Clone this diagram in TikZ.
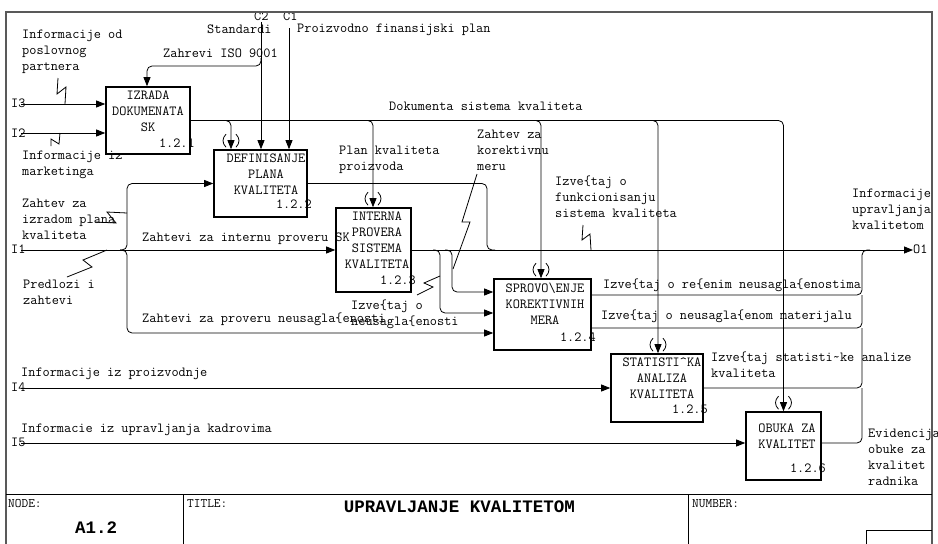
\documentclass[tikz,border=0pt]{standalone}
\usepackage{fontspec}
\newfontfamily\ttlfont{Liberation Mono}
\usetikzlibrary{arrows.meta}

% tunnel brackets "( )" drawn around an arrow tip that enters a box from above
\newcommand\tunnel[1]{%
  \begin{scope}[shift={(#1)}]
    \draw[conn] (-5,-15) .. controls (-9,-11) and (-9,-6) .. (-5,-2);
    \draw[conn] (5,-15) .. controls (9,-11) and (9,-6) .. (5,-2);
  \end{scope}}

% a left-aligned label of several lines, one node per line
\newcommand\labelstack[4]{%
  \foreach \t [count=\i] in {#4}
    \node[lbl] (#1\i) at (#2,{#3+16*(\i-1)}) {\t};}

\begin{document}
\begin{tikzpicture}[x=1pt,y=-1pt,
  conn/.style={line width=0.8pt, draw=black},
  arr/.style={conn, -{Triangle[length=9pt,width=7pt]}},
  rc/.style={rounded corners=5pt},
  pbox/.style={draw, line width=1.6pt, inner sep=0pt},
  txtfont/.style={font=\ttfamily\fontsize{13.9}{16}\selectfont},
  lbl/.style={txtfont, inner sep=0pt, anchor=west, text height=8pt, text depth=0pt},
  btxt/.style={txtfont, inner sep=0pt, align=center},
  bnum/.style={txtfont, inner sep=0pt, anchor=east, text height=8pt, text depth=0pt},
  frame/.style={line width=1.2pt, draw=black!65},
  tb/.style={line width=0.9pt},
  tblbl/.style={font=\ttfamily\fontsize{13}{15}\selectfont, inner sep=0pt, anchor=west, text height=7pt, text depth=0pt},
  ttl/.style={font=\ttlfont\bfseries\fontsize{17.5}{20}\selectfont, inner sep=0pt, text height=11pt, text depth=0pt}
]
\useasboundingbox (0,0) rectangle (938,544);

% ---------- activity boxes ----------
\node[pbox, minimum width=84pt, minimum height=67pt] (b1) at (148,120.5) {};
\node[pbox, minimum width=93pt, minimum height=67pt] (b2) at (260.5,183.5) {};
\node[pbox, minimum width=75pt, minimum height=84pt] (b3) at (373.5,250) {};
\node[pbox, minimum width=97pt, minimum height=71pt] (b4) at (542.5,314.5) {};
\node[pbox, minimum width=92pt, minimum height=68pt] (b5) at (657,388) {};
\node[pbox, minimum width=75pt, minimum height=68pt] (b6) at (783.5,446) {};

\node[btxt] (t1) at (148,111) {IZRADA\\DOKUMENATA\\SK};
\node[btxt] (t2) at (266,174) {DEFINISANJE\\PLANA\\KVALITETA};
\node[btxt] (t3) at (377,240) {INTERNA\\PROVERA\\SISTEMA\\KVALITETA};
\node[btxt] (t4) at (545,304) {SPROVO\textbackslash ENJE\\KOREKTIVNIH\\MERA};
\node[btxt] (t5) at (662,378) {STATISTI\textasciicircum KA\\ANALIZA\\KVALITETA};
\node[btxt] (t6) at (787,436) {OBUKA ZA\\KVALITET};

\node[bnum] (n1) at (195,143) {1.2.1};
\node[bnum] (n2) at (312,204) {1.2.2};
\node[bnum] (n3) at (416,280) {1.2.3};
\node[bnum] (n4) at (596,337) {1.2.4};
\node[bnum] (n5) at (708,409) {1.2.5};
\node[bnum] (n6) at (826,468) {1.2.6};

% ---------- free ends and junction points ----------
\coordinate (i3s) at (21,104);
\coordinate (i2s) at (21,133);
\coordinate (i1s) at (21,250);
\coordinate (i4s) at (21,388);
\coordinate (i5s) at (21,443);
\coordinate (c2s) at (261,22);
\coordinate (c1s) at (289,28);
\coordinate (c2j) at (261,58);
\coordinate (zt)  at (147,66);
\coordinate (o1e) at (913,250);
\coordinate (k2) at (231,120.5);
\coordinate (k3) at (373,120.5);
\coordinate (k4) at (541,120.5);
\coordinate (k5) at (658,120.5);
\coordinate (pj) at (487,250);
\coordinate (m1) at (440,250);
\coordinate (m2) at (452,250);
\coordinate (f1) at (127,250);
\coordinate (cx) at (862,250);
\coordinate (in41) at ([yshift=22.5pt]b4.west);
\coordinate (in42) at ([yshift=1.5pt]b4.west);
\coordinate (in43) at ([yshift=-18.5pt]b4.west);
\coordinate (o41) at ([yshift=19.5pt]b4.east);
\coordinate (o42) at ([yshift=-13.5pt]b4.east);
\coordinate (o6)  at ([yshift=3pt]b6.east);

% ---------- inputs ----------
\draw[arr] (i3s) -- (i3s -| b1.west);
\draw[arr] (i2s) -- (i2s -| b1.west);
\draw[arr] (i1s) -- (i1s -| b3.west);
\draw[arr] (i4s) -- (i4s -| b5.west);
\draw[arr] (i5s) -- (i5s -| b6.west);
\draw[arr,rc] ([xshift=-7pt]f1) -| (f1 |- b2.west) -- (b2.west);
\draw[arr,rc] ([xshift=-7pt]f1) -| (f1 |- in43) -- (in43);

% ---------- controls ----------
\draw[arr] (c2s) -- (c2s |- b2.north);
\draw[arr] (c1s) -- (c1s |- b2.north);
\draw[arr,rc] (c2j) |- (zt) -- (zt |- b1.north);

% ---------- quality documents, fed to every later activity ----------
\draw[arr,rc] (b1.east) -| (b6.north);
\draw[arr,rc] ([xshift=-8pt]k2) -| (k2 |- b2.north);
\draw[arr,rc] ([xshift=-8pt]k3) -| (k3 |- b3.north);
\draw[arr,rc] ([xshift=-8pt]k4) -| (k4 |- b4.north);
\draw[arr,rc] ([xshift=-8pt]k5) -| (k5 |- b5.north);
\tunnel{k2 |- b2.north}
\tunnel{k3 |- b3.north}
\tunnel{k4 |- b4.north}
\tunnel{k5 |- b5.north}
\tunnel{b6.north}

% ---------- outputs ----------
\draw[conn,rc] (b2.east) -| (pj) -- ++(8,0);
\draw[arr] (b3.east) -- (o1e);
\draw[arr,rc] ([xshift=-7pt]m1) -| (m1 |- in42) -- (in42);
\draw[arr,rc] ([xshift=-7pt]m2) -| (m2 |- in41) -- (in41);
\draw[conn,rc] (o41) -| (cx) -- ++(8,0);
\draw[conn,rc] (o42) -| (cx |- o41);
\draw[conn,rc] (b5.east) -| (cx |- o42);
\draw[conn,rc] (o6) -| (cx |- b5.east);

% ---------- label leaders ----------
\draw[conn] (58,78) -- (57,94) -- (66,87) -- (65,104);
\draw[conn] (51,146) -- (51,139) -- (59,144) -- (60,133);
\draw[conn] (127,213) -- (107,212) -- (116,223) -- (95,222);
\draw[conn] (107,250) -- (83,260) -- (92,267) -- (67,277);
\draw[conn] (583,225) -- (582,240) -- (590,234) -- (591,250);
\draw[conn] (477,174) -- (462,222) -- (470,222) -- (453,269);
\draw[conn] (440,276) -- (424,283) -- (433,287) -- (417,295);

% ---------- labels ----------
\node[lbl] (li3) at (11,103) {I3};
\node[lbl] (li2) at (11,133) {I2};
\node[lbl] (li1) at (11,249) {I1};
\node[lbl] (li4) at (11,387) {I4};
\node[lbl] (li5) at (11,442) {I5};
\node[lbl] (lc2) at (254,16) {C2};
\node[lbl] (lc1) at (283,16) {C1};
\node[lbl] (lo1) at (913,249) {O1};
\node[lbl] (lstd) at (207,29) {Standardi};
\node[lbl] (lpfp) at (297,28) {Proizvodno finansijski plan};
\node[lbl] (liso) at (163,53) {Zahrevi ISO 9001};
\labelstack{lpp}{22}{34}{Informacije od,poslovnog,partnera}
\labelstack{lmk}{22}{155}{Informacije iz,marketinga}
\node[lbl] (ldsk) at (389,106) {Dokumenta sistema kvaliteta};
\labelstack{lpk}{339}{150}{Plan kvaliteta,proizvoda}
\labelstack{lkm}{477}{134}{Zahtev za,korektivnu,meru}
\labelstack{lfs}{555}{181}{Izve\{taj o,funkcionisanju,sistema kvaliteta}
\labelstack{luk}{852}{193}{Informacije,upravljanja,kvalitetom}
\labelstack{lzi}{22}{203}{Zahtev za,izradom plana,kvaliteta}
\labelstack{lpz}{23}{284}{Predlozi i,zahtevi}
\node[lbl] (lip) at (142,237) {Zahtevi za internu proveru SK};
\node[lbl] (lpn) at (142,318) {Zahtevi za proveru neusagla\{enosti};
\labelstack{lin}{351}{305}{Izve\{taj o,neusagla\{enosti}
\node[lbl] (lrn) at (603,284) {Izve\{taj o re\{enim neusagla\{enostima};
\node[lbl] (lnm) at (601,315) {Izve\{taj o neusagla\{enom materijalu};
\labelstack{lsa}{711}{357}{Izve\{taj statisti\textasciitilde ke analize,kvaliteta}
\labelstack{lev}{868}{433}{Evidencija,obuke za,kvalitet,radnika}
\node[lbl] (lprz) at (21,372) {Informacije iz proizvodnje};
\node[lbl] (lkad) at (21,428) {Informacie iz upravljanja kadrovima};

% ---------- frame and title block ----------
\draw[frame] (6,544) -- (6,12) -- (932,12) -- (932,544);
\draw[tb] (6,494) -- (932,494);
\draw[tb] (183,494) -- (183,544);
\draw[tb] (688,494) -- (688,544);
\draw[tb] (866,544) -- (866,530) -- (932,530);
\node[tblbl] (lnode) at (8,504) {NODE:};
\node[tblbl] (ltitle) at (187,504) {TITLE:};
\node[tblbl] (lnum) at (692,504) {NUMBER:};
\node[ttl, anchor=west] (lnodeid) at (75,528) {A1.2};
\node[ttl] (ltitletext) at (459.5,507) {UPRAVLJANJE KVALITETOM};
\end{tikzpicture}
\end{document}
